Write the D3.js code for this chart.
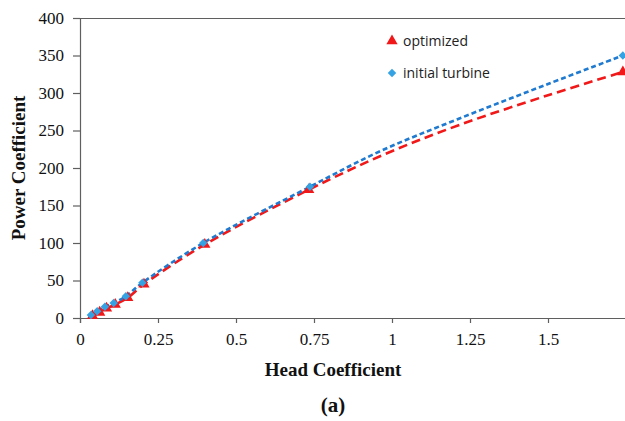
<!DOCTYPE html>
<html><head><meta charset="utf-8">
<script src="https://cdn.jsdelivr.net/npm/d3@7"></script>
<style>body{margin:0;background:#fff}svg{display:block}</style>
</head><body>
<svg id="c" width="625" height="421"></svg>
<script>
const xTicks = [0, 0.25, 0.5, 0.75, 1, 1.25, 1.5];
const xTickLabels = ["0", "0.25", "0.5", "0.75", "1", "1.25", "1.5"];
const yTicks = [0, 50, 100, 150, 200, 250, 300, 350, 400];
// marker points
const optX = [0.04, 0.063, 0.085, 0.113, 0.153, 0.205, 0.40, 0.733, 1.74];
const optY = [3, 7.5, 13, 18, 27, 45, 98, 171, 328];
const initX = [0.035, 0.055, 0.08, 0.108, 0.147, 0.2, 0.395, 0.737, 1.74];
const initY = [4, 9, 15, 20, 29, 47, 100, 175, 350];
// extra points (no markers)
const optCurveX = [0.98, 1.22, 1.5];
const optCurveY = [219, 258, 297];
const initCurveX = [0.96, 1.21, 1.5];
const initCurveY = [222, 265, 312];
const seriesNames = ["optimized", "initial turbine"];

const svg = d3.select("#c");
const L = 80, T = 18, B = 318, R = 626;
const x = d3.scaleLinear().domain([0, 1.75]).range([L, R]);
const y = d3.scaleLinear().domain([0, 400]).range([B, T]);
const axisColor = "#5f5f5f";
const serif = "'Liberation Serif','Times New Roman',serif";

svg.append("line").attr("x1", L).attr("x2", 625).attr("y1", T + 0.5).attr("y2", T + 0.5)
  .attr("stroke", axisColor).attr("stroke-width", 1.2);

const gx = svg.append("g").attr("transform", `translate(0,${B})`)
  .call(d3.axisBottom(x).tickValues(xTicks).tickFormat((d, i) => xTickLabels[i]).tickSizeOuter(0).tickSize(5).tickPadding(10));
const gy = svg.append("g").attr("transform", `translate(${L},0)`)
  .call(d3.axisLeft(y).tickValues(yTicks).tickSizeOuter(0).tickSize(7).tickPadding(9));
[gx, gy].forEach(g => {
  g.select(".domain").attr("stroke", axisColor).attr("stroke-width", 1.2);
  g.selectAll(".tick line").attr("stroke", axisColor).attr("stroke-width", 1.2);
  g.selectAll(".tick text").attr("font-family", serif).attr("font-size", 17).attr("fill", "#111");
});
gy.select(".domain").attr("d", `M0.5,${T}V${B}`);

const line = d3.line().curve(d3.curveCatmullRom.alpha(0.5)).x(d => x(d[0])).y(d => y(d[1]));
const optData = optX.map((v, i) => [v, optY[i]]);
const initData = initX.map((v, i) => [v, initY[i]]);
const optLine = optData.concat(optCurveX.map((v, i) => [v, optCurveY[i]])).sort((a, b) => a[0] - b[0]);
const initLine = initData.concat(initCurveX.map((v, i) => [v, initCurveY[i]])).sort((a, b) => a[0] - b[0]);

const red = "#f01818", blueLine = "#1f7ad0", blueMark = "#35a2e3";

svg.append("path").datum(optLine).attr("d", line).attr("fill", "none")
  .attr("stroke", red).attr("stroke-width", 2.6).attr("stroke-dasharray", "9,5");
svg.append("path").datum(initLine).attr("d", line).attr("fill", "none")
  .attr("stroke", blueLine).attr("stroke-width", 2.6).attr("stroke-dasharray", "5,3");

const tri = d3.symbol().type(d3.symbolTriangle).size(55);
const dia = d3.symbol().type(d3.symbolSquare).size(36);
svg.append("g").selectAll("path").data(optData).join("path")
  .attr("d", tri).attr("transform", d => `translate(${x(d[0])},${y(d[1])})`).attr("fill", red);
svg.append("g").selectAll("path").data(initData).join("path")
  .attr("d", dia).attr("transform", d => `translate(${x(d[0])},${y(d[1])}) rotate(45)`).attr("fill", blueMark);

const lg = svg.append("g");
lg.append("path").attr("d", tri).attr("transform", "translate(392,41)").attr("fill", red);
lg.append("path").attr("d", dia).attr("transform", "translate(392,73) rotate(45)").attr("fill", blueMark);
lg.append("text").attr("x", 403).attr("y", 46).text(seriesNames[0])
  .attr("font-family", "'Open Sans','Liberation Sans',sans-serif").attr("font-size", 14).attr("fill", "#222");
lg.append("text").attr("x", 403).attr("y", 78).text(seriesNames[1])
  .attr("font-family", "'Open Sans','Liberation Sans',sans-serif").attr("font-size", 14).attr("fill", "#222");

svg.append("text").attr("transform", "translate(25,168) rotate(-90)").attr("text-anchor", "middle")
  .attr("font-family", serif).attr("font-weight", "bold").attr("font-size", 19).attr("fill", "#111")
  .text("Power Coefficient");
svg.append("text").attr("x", 333).attr("y", 376).attr("text-anchor", "middle")
  .attr("font-family", serif).attr("font-weight", "bold").attr("font-size", 19).attr("fill", "#111")
  .text("Head Coefficient");
svg.append("text").attr("x", 333).attr("y", 412).attr("text-anchor", "middle")
  .attr("font-family", serif).attr("font-weight", "bold").attr("font-size", 21).attr("fill", "#111")
  .text("(a)");
</script>
</body></html>
